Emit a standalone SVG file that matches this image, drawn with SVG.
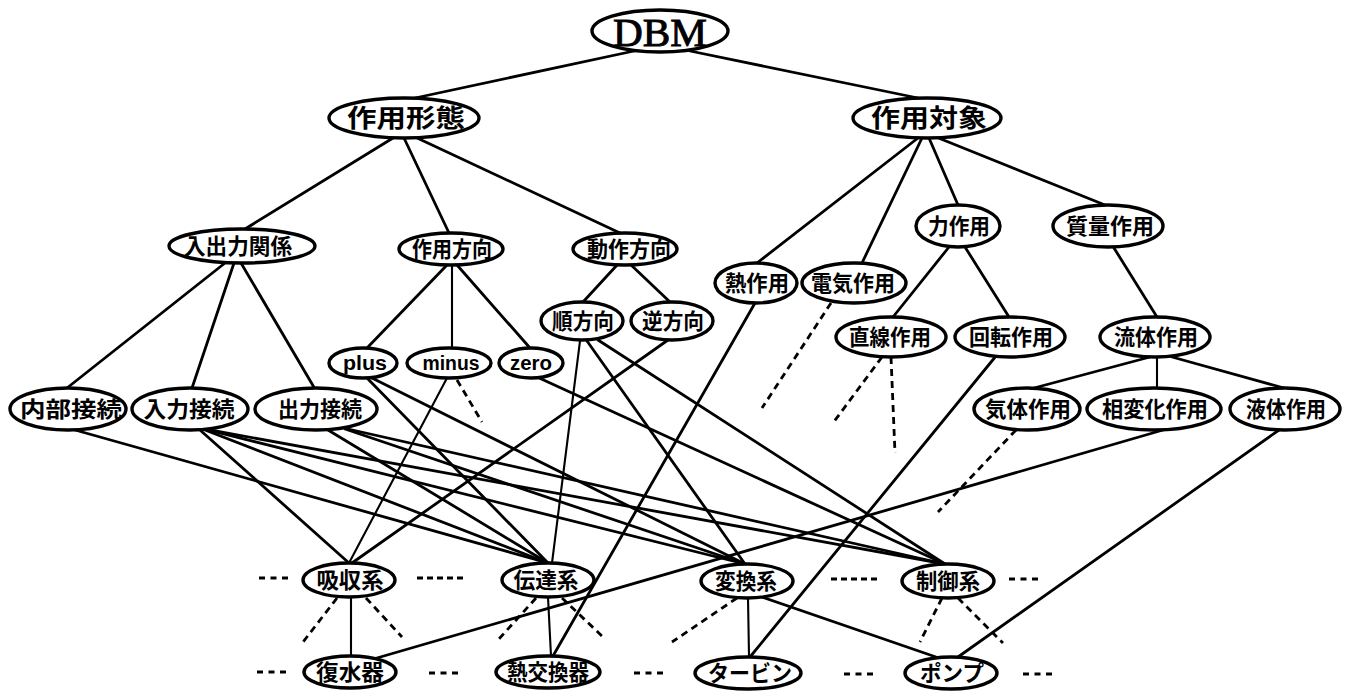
<svg xmlns="http://www.w3.org/2000/svg" width="1348" height="696" viewBox="0 0 1348 696">
  <style>
    .n ellipse { fill: #fff; stroke: #000; stroke-width: 3.4; }
    .n text { font-family: "Noto Sans CJK JP", "Noto Sans", sans-serif; font-weight: 700; font-size: 22px; text-anchor: middle; fill: #000; }
    .n text.lat { font-family: "Liberation Sans", "Noto Sans", sans-serif; font-size: 20px; }
    .n text.big { font-size: 25px; }
    .n text.dbm { font-family: "Liberation Serif", serif; font-weight: 400; font-size: 40px; stroke: #000; stroke-width: 0.9; }
    .e line { stroke: #000; stroke-width: 2.8; stroke-linecap: round; }
    .e line.thin { stroke-width: 2.1; }
    .d line { stroke: #000; stroke-width: 2.8; stroke-dasharray: 7 5; }
    .dots line { stroke: #000; stroke-width: 3.2; }
  </style>

  <!-- connectors -->
  <g id="connectors" class="e">
    <line x1="634" y1="51" x2="415" y2="98"/>
    <line x1="690" y1="51" x2="918" y2="98"/>
    <line x1="393" y1="138" x2="245" y2="229"/>
    <line x1="404" y1="138" x2="449" y2="233"/>
    <line x1="415" y1="137" x2="620" y2="233"/>
    <line x1="918" y1="138" x2="757" y2="263"/>
    <line x1="922" y1="138" x2="862" y2="263"/>
    <line x1="929" y1="138" x2="958" y2="205"/>
    <line x1="936" y1="137" x2="1105" y2="205"/>
    <line x1="225" y1="263" x2="67" y2="388"/>
    <line x1="234" y1="263" x2="192" y2="388"/>
    <line x1="241" y1="263" x2="315" y2="389"/>
    <line x1="447" y1="265" x2="367" y2="348"/>
    <line class="thin" x1="452" y1="265" x2="452" y2="348"/>
    <line x1="457" y1="265" x2="530" y2="348"/>
    <line x1="618" y1="264" x2="583" y2="302"/>
    <line x1="630" y1="264" x2="670" y2="302"/>
    <line x1="949" y1="247" x2="893" y2="317"/>
    <line x1="965" y1="247" x2="1009" y2="317"/>
    <line x1="1114" y1="248" x2="1157" y2="317"/>
    <line x1="1150" y1="357" x2="1034" y2="388"/>
    <line class="thin" x1="1157" y1="357" x2="1157" y2="388"/>
    <line x1="1172" y1="357" x2="1284" y2="388"/>

    <line x1="75" y1="430" x2="548" y2="563"/>
    <line x1="200" y1="430" x2="349" y2="563"/>
    <line x1="205" y1="430" x2="548" y2="563"/>
    <line x1="208" y1="430" x2="745" y2="564"/>
    <line x1="210" y1="430" x2="945" y2="564"/>
    <line x1="328" y1="430" x2="548" y2="563"/>
    <line x1="345" y1="429" x2="745" y2="564"/>
    <line x1="348" y1="429" x2="945" y2="564"/>
    <line x1="367" y1="378" x2="548" y2="563"/>
    <line x1="372" y1="378" x2="745" y2="564"/>
    <line class="thin" x1="447" y1="378" x2="349" y2="563"/>
    <line x1="537" y1="377" x2="945" y2="564"/>
    <line class="thin" x1="580" y1="341" x2="552" y2="563"/>
    <line x1="587" y1="341" x2="745" y2="564"/>
    <line x1="598" y1="340" x2="945" y2="564"/>
    <line x1="668" y1="340" x2="352" y2="563"/>
    <line x1="755" y1="303" x2="553" y2="656"/>
    <line x1="996" y1="356" x2="750" y2="657"/>
    <line x1="1163" y1="430" x2="370" y2="660"/>
    <line x1="1279" y1="430" x2="958" y2="657"/>
    <line class="thin" x1="351" y1="597" x2="351" y2="656"/>
    <line class="thin" x1="548" y1="597" x2="551" y2="656"/>
    <line class="thin" x1="748" y1="598" x2="749" y2="656"/>
    <line x1="762" y1="597" x2="936" y2="657"/>
  </g>

  <!-- open-ended dashed branches -->
  <g id="dashed-branches" class="d">
    <line x1="457" y1="380" x2="482" y2="422"/>
    <line x1="831" y1="303" x2="762" y2="408"/>
    <line x1="882" y1="357" x2="833" y2="423"/>
    <line x1="891" y1="357" x2="895" y2="453"/>
    <line x1="1016" y1="430" x2="938" y2="512"/>
    <line x1="337" y1="598" x2="303" y2="642"/>
    <line x1="366" y1="598" x2="402" y2="637"/>
    <line x1="536" y1="598" x2="498" y2="640"/>
    <line x1="562" y1="598" x2="603" y2="637"/>
    <line x1="737" y1="598" x2="672" y2="642"/>
    <line x1="942" y1="598" x2="920" y2="642"/>
    <line x1="958" y1="598" x2="1003" y2="643"/>
  </g>

  <!-- ellipsis marks between siblings -->
  <g id="ellipsis-marks" class="dots">
    <line x1="259" y1="578" x2="288" y2="578" stroke-dasharray="6 5.5"/>
    <line x1="417" y1="578" x2="463" y2="578" stroke-dasharray="6 4"/>
    <line x1="831" y1="579" x2="877" y2="579" stroke-dasharray="6 4"/>
    <line x1="1009" y1="579" x2="1038" y2="579" stroke-dasharray="6 5.5"/>
    <line x1="257" y1="672" x2="286" y2="672" stroke-dasharray="6 5.5"/>
    <line x1="429" y1="673" x2="458" y2="673" stroke-dasharray="6 5.5"/>
    <line x1="634" y1="673" x2="663" y2="673" stroke-dasharray="6 5.5"/>
    <line x1="844" y1="674" x2="873" y2="674" stroke-dasharray="6 5.5"/>
    <line x1="1023" y1="674" x2="1052" y2="674" stroke-dasharray="6 5.5"/>
  </g>

  <!-- nodes -->
  <g id="n-dbm" class="n"><ellipse cx="660" cy="31" rx="68" ry="21"/><text class="dbm" x="660" y="46" textLength="94" lengthAdjust="spacingAndGlyphs">DBM</text></g>

  <g id="n-sayou-keitai" class="n"><ellipse cx="404" cy="118" rx="75" ry="20"/><text class="big" x="406" y="127" textLength="118" lengthAdjust="spacingAndGlyphs">作用形態</text></g>
  <g id="n-sayou-taishou" class="n"><ellipse cx="927" cy="118" rx="74" ry="20"/><text class="big" x="929" y="127" textLength="116" lengthAdjust="spacingAndGlyphs">作用対象</text></g>

  <g id="n-nyushutsu" class="n"><ellipse cx="242" cy="246" rx="73" ry="17"/><text x="238" y="254" textLength="108" lengthAdjust="spacingAndGlyphs">入出力関係</text></g>
  <g id="n-sayou-houkou" class="n"><ellipse cx="451" cy="249" rx="52" ry="16"/><text x="452" y="257" textLength="80" lengthAdjust="spacingAndGlyphs">作用方向</text></g>
  <g id="n-dousa-houkou" class="n"><ellipse cx="625" cy="249" rx="52" ry="16"/><text x="629" y="257" textLength="84" lengthAdjust="spacingAndGlyphs">動作方向</text></g>
  <g id="n-chikara" class="n"><ellipse cx="958" cy="226" rx="42" ry="21"/><text x="959" y="234" textLength="62" lengthAdjust="spacingAndGlyphs">力作用</text></g>
  <g id="n-shitsuryou" class="n"><ellipse cx="1108" cy="226" rx="55" ry="21"/><text x="1110" y="234" textLength="88" lengthAdjust="spacingAndGlyphs">質量作用</text></g>

  <g id="n-netsu" class="n"><ellipse cx="756" cy="283" rx="41" ry="20"/><text x="757" y="291" textLength="64" lengthAdjust="spacingAndGlyphs">熱作用</text></g>
  <g id="n-denki" class="n"><ellipse cx="854" cy="283" rx="52" ry="20"/><text x="853" y="291" textLength="84" lengthAdjust="spacingAndGlyphs">電気作用</text></g>

  <g id="n-jun" class="n"><ellipse cx="582" cy="321" rx="41" ry="19"/><text x="583" y="329" textLength="62" lengthAdjust="spacingAndGlyphs">順方向</text></g>
  <g id="n-gyaku" class="n"><ellipse cx="672" cy="321" rx="41" ry="19"/><text x="673" y="329" textLength="62" lengthAdjust="spacingAndGlyphs">逆方向</text></g>
  <g id="n-chokusen" class="n"><ellipse cx="891" cy="337" rx="55" ry="20"/><text x="890" y="345" textLength="82" lengthAdjust="spacingAndGlyphs">直線作用</text></g>
  <g id="n-kaiten" class="n"><ellipse cx="1010" cy="337" rx="55" ry="20"/><text x="1011" y="345" textLength="84" lengthAdjust="spacingAndGlyphs">回転作用</text></g>
  <g id="n-ryuutai" class="n"><ellipse cx="1155" cy="337" rx="55" ry="20"/><text x="1156" y="345" textLength="84" lengthAdjust="spacingAndGlyphs">流体作用</text></g>

  <g id="n-plus" class="n"><ellipse cx="363" cy="363" rx="34" ry="15"/><text class="lat" x="365" y="370" textLength="44" lengthAdjust="spacingAndGlyphs">plus</text></g>
  <g id="n-minus" class="n"><ellipse cx="449" cy="363" rx="42" ry="15"/><text class="lat" x="451" y="370" textLength="57" lengthAdjust="spacingAndGlyphs">minus</text></g>
  <g id="n-zero" class="n"><ellipse cx="531" cy="363" rx="32" ry="15"/><text class="lat" x="531" y="370" textLength="42" lengthAdjust="spacingAndGlyphs">zero</text></g>

  <g id="n-naibu" class="n"><ellipse cx="68" cy="409" rx="58" ry="21"/><text x="71" y="417" textLength="102" lengthAdjust="spacingAndGlyphs">内部接続</text></g>
  <g id="n-nyuuryoku" class="n"><ellipse cx="190" cy="409" rx="58" ry="21"/><text x="189" y="417" textLength="91" lengthAdjust="spacingAndGlyphs">入力接続</text></g>
  <g id="n-shutsuryoku" class="n"><ellipse cx="316" cy="409" rx="61" ry="21"/><text x="320" y="417" textLength="84" lengthAdjust="spacingAndGlyphs">出力接続</text></g>
  <g id="n-kitai" class="n"><ellipse cx="1027" cy="409" rx="53" ry="21"/><text x="1028" y="417" textLength="86" lengthAdjust="spacingAndGlyphs">気体作用</text></g>
  <g id="n-souhenka" class="n"><ellipse cx="1154" cy="409" rx="67" ry="21"/><text x="1155" y="417" textLength="106" lengthAdjust="spacingAndGlyphs">相変化作用</text></g>
  <g id="n-ekitai" class="n"><ellipse cx="1285" cy="409" rx="55" ry="21"/><text x="1286" y="417" textLength="80" lengthAdjust="spacingAndGlyphs">液体作用</text></g>

  <g id="n-kyuushuu" class="n"><ellipse cx="349" cy="580" rx="46" ry="17"/><text x="350" y="588" textLength="67" lengthAdjust="spacingAndGlyphs">吸収系</text></g>
  <g id="n-dentatsu" class="n"><ellipse cx="548" cy="580" rx="46" ry="17"/><text x="546" y="588" textLength="65" lengthAdjust="spacingAndGlyphs">伝達系</text></g>
  <g id="n-henkan" class="n"><ellipse cx="747" cy="581" rx="46" ry="17"/><text x="746" y="589" textLength="62" lengthAdjust="spacingAndGlyphs">変換系</text></g>
  <g id="n-seigyo" class="n"><ellipse cx="948" cy="581" rx="46" ry="17"/><text x="948" y="589" textLength="64" lengthAdjust="spacingAndGlyphs">制御系</text></g>

  <g id="n-fukusuiki" class="n"><ellipse cx="350" cy="672" rx="46" ry="16"/><text x="350" y="680" textLength="68" lengthAdjust="spacingAndGlyphs">復水器</text></g>
  <g id="n-netsukoukanki" class="n"><ellipse cx="548" cy="672" rx="52" ry="16"/><text x="548" y="680" textLength="82" lengthAdjust="spacingAndGlyphs">熱交換器</text></g>
  <g id="n-turbine" class="n"><ellipse cx="748" cy="673" rx="53" ry="16"/><text x="750" y="681" textLength="84" lengthAdjust="spacingAndGlyphs">タービン</text></g>
  <g id="n-pump" class="n"><ellipse cx="951" cy="673" rx="46" ry="16"/><text x="952" y="681" textLength="64" lengthAdjust="spacingAndGlyphs">ポンプ</text></g>
</svg>
